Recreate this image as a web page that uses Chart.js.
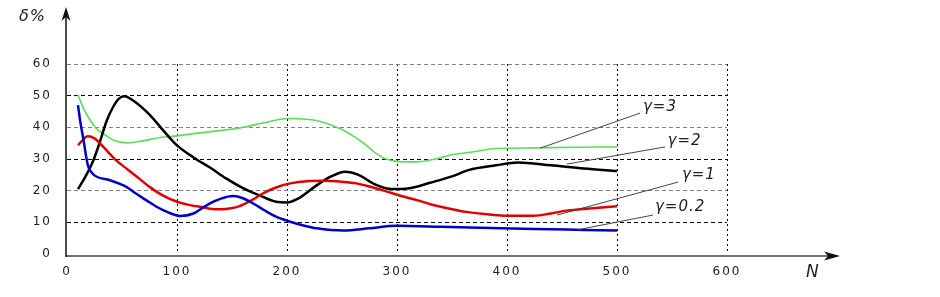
<!DOCTYPE html>
<html>
<head>
<meta charset="utf-8">
<script src="https://cdn.jsdelivr.net/npm/chart.js@4/dist/chart.umd.min.js"></script>
<style>
html,body{margin:0;padding:0;background:#fff;}
#wrap{width:940px;height:297px;position:relative;}
</style>
</head>
<body>
<div id="wrap"><canvas id="c" width="940" height="297"></canvas></div>
<script>
// ---- data ----
const xTicks = [0, 100, 200, 300, 400, 500, 600];
const yTicks = [0, 10, 20, 30, 40, 50, 60];

// gamma = 3 (green)
const nG3 = [10,15,21,27,33,42,54,70,85,100,115,135,157,180,200,224,248,260,270,280,290,305,318,335,348,370,390,424,460,500];
const dG3 = [50.2,46,42.3,39.5,38,36,35.1,35.8,36.8,37.3,38,38.8,39.8,41.5,42.8,42.3,39.6,37.3,34.9,32,30,29.1,29.1,30,31.2,32.3,33.3,33.5,33.7,33.8];

// gamma = 2 (black)
const nG2 = [10,17,24,30,36,42,47,52,62,75,90,100,115,130,145,160,175,190,200,210,225,240,253,265,280,295,310,330,350,365,390,410,440,470,500];
const dG2 = [20.5,24.6,29.6,35.5,42,46.5,49,49.8,48,44,38,34.3,30.5,27.3,23.8,20.8,18.5,16.5,16.3,17.5,21.2,24.5,26,25,22,20.5,20.7,22.5,24.5,26.5,28,28.9,28,27,26.2];

// gamma = 1 (red)
const nG1 = [10,19,25,33,45,54,65,75,87,100,110,121,136,148,157,168,178,190,203,218,233,250,263,278,291,303,318,333,348,363,380,397,424,440,454,475,500];
const dG1 = [34.4,37.2,36.5,33.8,29.5,27,24,21.2,18.5,16.5,15.6,14.9,14.1,14.4,15.1,17,19.1,21,22.3,23,23.1,22.8,22.3,21,19.7,18.4,17,15.5,14.3,13.3,12.6,12.1,12.1,12.8,13.7,14.4,15.1];

// gamma = 0.2 (blue)
const nG02 = [10,12,15,19,23,27,39,54,63,72,81,91,103,115,122,130,140,151,160,170,179,190,203,215,227,251,275,300,340,395,440,470,500];
const dG02 = [47,42,36,28,25.5,24.4,23.3,21.2,19,17,15,13.3,12,12.8,14.3,16,17.5,18.3,17.6,15.8,13.9,11.8,10.2,9,8.1,7.4,8.1,8.9,8.6,8.1,7.8,7.6,7.4];

const seriesLabels = ["γ=3", "γ=2", "γ=1", "γ=0.2"];

// label annotations (data coordinates): text anchor, leader start (on curve), leader end
const annText  = [[523.6,46.4],[546,35.6],[559,24.9],[534.5,14.8]];
const annFrom  = [[430,33.4],[454.5,28.4],[445.5,12.3],[463.6,7.6]];
const annTo    = [[521,44.5],[543.6,33.8],[555.5,22.7],[532.7,12.3]];

function pts(n, d){ return n.map((v,i)=>({x:v, y:d[i]})); }

const fontFam = "'DejaVu Sans', 'Liberation Sans', sans-serif";

const spacingPlugin = {
  id:'spacing',
  beforeDraw(chart){ chart.ctx.letterSpacing = '2px'; }
};

const axesPlugin = {
  id:'axesArrows',
  afterDraw(chart){
    const ctx = chart.ctx;
    const xs = chart.scales.x, ys = chart.scales.y;
    const x0 = xs.getPixelForValue(0);
    const y0 = ys.getPixelForValue(0);
    ctx.save();
    ctx.letterSpacing = '0px';
    // leader lines
    ctx.strokeStyle = '#444';
    ctx.lineWidth = 1;
    for (let i=0;i<annFrom.length;i++){
      ctx.beginPath();
      ctx.moveTo(xs.getPixelForValue(annFrom[i][0]), ys.getPixelForValue(annFrom[i][1]));
      ctx.lineTo(xs.getPixelForValue(annTo[i][0]), ys.getPixelForValue(annTo[i][1]));
      ctx.stroke();
    }
    // labels
    ctx.fillStyle = '#222';
    ctx.font = 'italic 15px ' + fontFam;
    ctx.textAlign = 'left';
    ctx.textBaseline = 'middle';
    ctx.letterSpacing = '1px';
    for (let i=0;i<annText.length;i++){
      ctx.fillText(seriesLabels[i], xs.getPixelForValue(annText[i][0]), ys.getPixelForValue(annText[i][1]));
    }
    ctx.letterSpacing = '0px';
    // x axis
    const xEnd = 840;
    ctx.strokeStyle = '#707070';
    ctx.lineWidth = 2;
    ctx.beginPath();
    ctx.moveTo(x0-1, y0+2);
    ctx.lineTo(xEnd-10, y0+2);
    ctx.stroke();
    ctx.fillStyle = '#111';
    ctx.beginPath();
    ctx.moveTo(xEnd, y0+2);
    ctx.lineTo(xEnd-16, y0-2.5);
    ctx.lineTo(xEnd-12, y0+2);
    ctx.lineTo(xEnd-16, y0+6.5);
    ctx.closePath();
    ctx.fill();
    // y axis
    const yTop = 7;
    ctx.strokeStyle = '#111';
    ctx.lineWidth = 1.5;
    ctx.beginPath();
    ctx.moveTo(x0-1, y0+3);
    ctx.lineTo(x0-1, yTop+8);
    ctx.stroke();
    ctx.beginPath();
    ctx.moveTo(x0-1, yTop);
    ctx.lineTo(x0-5.5, yTop+14);
    ctx.lineTo(x0-1, yTop+10);
    ctx.lineTo(x0+3.5, yTop+14);
    ctx.closePath();
    ctx.fill();
    // axis titles
    ctx.fillStyle = '#222';
    ctx.font = 'italic 16px ' + fontFam;
    ctx.textAlign = 'left';
    ctx.textBaseline = 'middle';
    ctx.letterSpacing = '1px';
    ctx.fillText('δ%', 19, 17);
    ctx.font = 'italic 17px ' + fontFam;
    ctx.fillText('N', 806, 273);
    ctx.restore();
  }
};

const ds = (label, n, d, color, w) => ({
  label, data: pts(n,d), borderColor: color, backgroundColor: color,
  borderWidth: w, pointRadius: 0, fill: false, cubicInterpolationMode: 'monotone'
});

new Chart(document.getElementById('c'), {
  type: 'line',
  data: {
    datasets: [
      ds(seriesLabels[3], nG02, dG02, '#0000c8', 2.5),
      ds(seriesLabels[2], nG1, dG1, '#e00000', 2.5),
      ds(seriesLabels[1], nG2, dG2, '#000000', 2.5),
      ds(seriesLabels[0], nG3, dG3, '#5ade5a', 1.6)
    ]
  },
  options: {
    responsive: false,
    animation: false,
    devicePixelRatio: 1,
    layout: { padding: { top: 64, right: 213, left: 0, bottom: 0 } },
    plugins: { legend: { display: false }, tooltip: { enabled: false } },
    scales: {
      x: {
        type: 'linear', min: 0, max: 600,
        afterFit(s){ s.height = 43; },
        afterBuildTicks(s){ s.ticks = xTicks.map(v=>({value:v})); },
        grid: {
          drawTicks: false,
          color: c => (c.tick && c.tick.value === 0) ? 'rgba(0,0,0,0)' : '#000',
          lineWidth: 1
        },
        border: { display: false, dash: [2,3] },
        ticks: { padding: 11, color: '#222', font: { family: fontFam, size: 12 } }
      },
      y: {
        type: 'linear', min: 0, max: 60,
        afterFit(s){ s.width = 67; },
        afterBuildTicks(s){ s.ticks = yTicks.map(v=>({value:v})); },
        grid: {
          drawTicks: false,
          color: c => {
            const v = c.tick ? c.tick.value : 0;
            if (v === 0) return 'rgba(0,0,0,0)';
            return (v % 20 === 0) ? '#808080' : '#000';
          },
          lineWidth: 1
        },
        border: { display: false, dash: [4,3] },
        ticks: { padding: 15, color: '#222', font: { family: fontFam, size: 12 } }
      }
    }
  },
  plugins: [spacingPlugin, axesPlugin]
});
</script>
</body>
</html>
